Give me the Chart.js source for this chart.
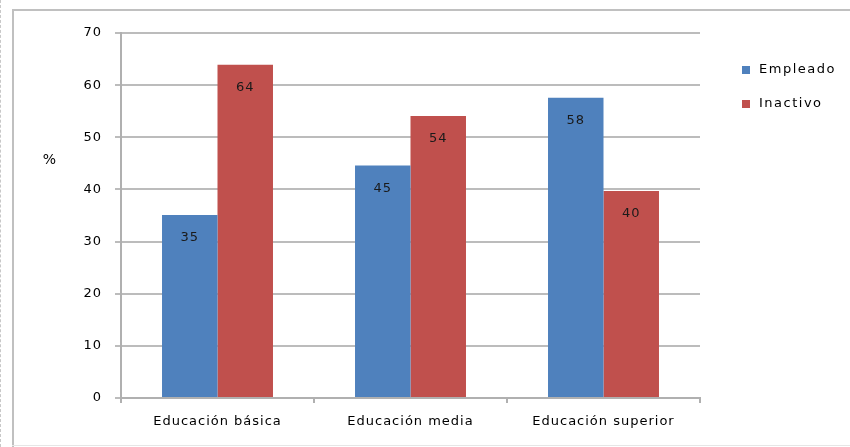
<!DOCTYPE html>
<html>
<head>
<meta charset="utf-8">
<script src="https://cdn.jsdelivr.net/npm/chart.js@4"></script>
<style>
  html, body { margin: 0; padding: 0; background: #fff; overflow: hidden; }
  #wrap { position: relative; width: 850px; height: 447px; overflow: hidden; }
  .line { position: absolute; background: #c0c0c0; }
  #dash { position: absolute; left: 0; top: 0; width: 0; height: 447px; border-left: 1px dashed #c8c8c8; }
  canvas { position: absolute; left: 0; top: 0; }
</style>
</head>
<body>
<div id="wrap">
  <div id="dash"></div>
  <div class="line" style="left:12px; top:9px; width:838px; height:2px;"></div>
  <div class="line" style="left:12px; top:9px; width:2px; height:438px;"></div>
  <div class="line" style="left:12px; top:445px; width:838px; height:1px; background:#e6e6e6;"></div>
  <canvas id="barChart" width="850" height="447"></canvas>
</div>
<script>
const categories = ['Educación básica', 'Educación media', 'Educación superior'];
const empleado = [35.1, 44.6, 57.6];
const inactivo = [63.9, 54.1, 39.7];
const yTicks = [0, 10, 20, 30, 40, 50, 60, 70];

const FONT = '"DejaVu Sans", Verdana, sans-serif';

// wider letter spacing like the original rendering
const spacing = {
  id: 'spacing',
  beforeDraw(chart) { chart.ctx.letterSpacing = '1px'; }
};

// value labels inside the top of each bar, "%" title and the legend on the right
const extras = {
  id: 'extras',
  afterDatasetsDraw(chart) {
    const ctx = chart.ctx;
    ctx.save();
    ctx.letterSpacing = '1px';
    ctx.font = '13px ' + FONT;
    ctx.fillStyle = '#1a1a1a';
    ctx.textAlign = 'center';
    ctx.textBaseline = 'middle';
    chart.data.datasets.forEach((ds, i) => {
      chart.getDatasetMeta(i).data.forEach((bar, j) => {
        ctx.fillText(Math.round(ds.data[j]), bar.x, bar.y + 23);
      });
    });

    const y = chart.scales.y;
    ctx.font = '14px ' + FONT;
    ctx.fillStyle = '#000';
    ctx.fillText('%', 50, y.getPixelForValue(45.5));

    ctx.font = '13px ' + FONT;
    ctx.letterSpacing = '1.5px';
    ctx.textAlign = 'left';
    chart.data.datasets.forEach((ds, i) => {
      const ly = 70 + i * 34;
      ctx.fillStyle = ds.backgroundColor;
      ctx.fillRect(742, ly - 4, 8, 8);
      ctx.fillStyle = '#000';
      ctx.fillText(ds.label, 759, ly);
    });
    ctx.restore();
  }
};

const ctx = document.getElementById('barChart').getContext('2d');
new Chart(ctx, {
  type: 'bar',
  data: {
    labels: categories,
    datasets: [
      {
        label: 'Empleado',
        data: empleado,
        backgroundColor: '#4F81BD',
        borderWidth: 0
      },
      {
        label: 'Inactivo',
        data: inactivo,
        backgroundColor: '#C0504D',
        borderWidth: 0
      }
    ]
  },
  options: {
    responsive: false,
    animation: false,
    devicePixelRatio: 1,
    layout: { padding: { left: 0, right: 150, top: 33, bottom: 0 } },
    datasets: {
      bar: { categoryPercentage: 0.575, barPercentage: 1 }
    },
    plugins: {
      legend: { display: false },
      tooltip: { enabled: false },
      title: { display: false }
    },
    scales: {
      x: {
        grid: {
          offset: true,
          drawOnChartArea: false,
          color: '#b0b0b0',
          lineWidth: 2,
          tickLength: 5
        },
        border: { color: '#b0b0b0', width: 2 },
        ticks: {
          color: '#000',
          font: { family: FONT, size: 13 },
          padding: 11,
          maxRotation: 0
        },
        afterFit(scale) { scale.height = 49; }
      },
      y: {
        min: 0,
        max: 70,
        afterBuildTicks(scale) { scale.ticks = yTicks.map(v => ({ value: v })); },
        grid: {
          color: '#bcbcbc',
          lineWidth: 2,
          tickLength: 6
        },
        border: { color: '#b0b0b0', width: 2 },
        ticks: {
          color: '#000',
          font: { family: FONT, size: 13 },
          padding: 13
        },
        afterFit(scale) { scale.width = 121; }
      }
    }
  },
  plugins: [spacing, extras]
});
</script>
</body>
</html>
